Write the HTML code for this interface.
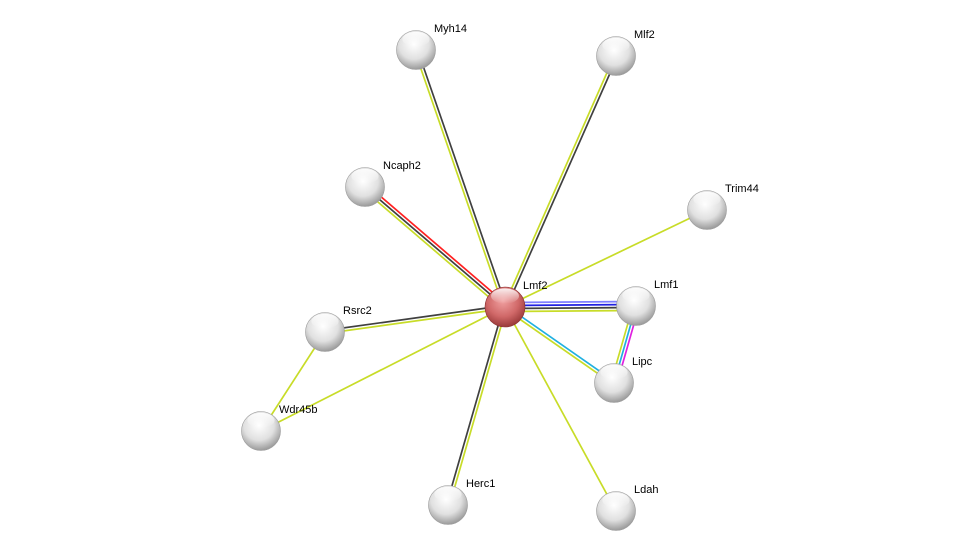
<!DOCTYPE html>
<html><head><style>
html,body{margin:0;padding:0;background:#fff;}
svg{display:block}
text{font-family:"Liberation Sans",sans-serif;font-size:11px;fill:#000}
</style></head><body>
<svg id="s" width="975" height="556" xmlns="http://www.w3.org/2000/svg">
<defs>
<radialGradient id="g" cx="45%" cy="35%" r="65%">
<stop offset="0" stop-color="#ffffff"/><stop offset="0.6" stop-color="#e0e0e0"/><stop offset="1" stop-color="#9a9a9a"/>
</radialGradient>
<radialGradient id="r" cx="45%" cy="35%" r="65%">
<stop offset="0" stop-color="#f0a0a0"/><stop offset="0.6" stop-color="#d06868"/><stop offset="1" stop-color="#9a3a3a"/>
</radialGradient>
<linearGradient id="hl" x1="0" y1="0" x2="0" y2="1">
<stop offset="0" stop-color="#fff" stop-opacity="0.9"/><stop offset="1" stop-color="#fff" stop-opacity="0"/>
</linearGradient>
</defs>
<g id="edges"></g><g id="nodes"></g>
</svg>
<script>
var N={Lmf2:[505,307],Myh14:[416,50],Mlf2:[616,56],Ncaph2:[365,187],Trim44:[707,210],Lmf1:[636,306],Rsrc2:[325,332],Lipc:[614,383],Wdr45b:[261,431],Herc1:[448,505],Ldah:[616,511]};
var YG="#c8dc28",DK="#404040";
var E=[["Lmf2","Myh14",[YG,DK]],["Lmf2","Mlf2",[YG,DK]],["Lmf2","Ncaph2",[YG,DK,"#ff2020"]],["Lmf2","Trim44",[YG]],
["Lmf2","Lmf1",["#8080ff","#2020e0",DK,YG]],["Lmf2","Lipc",["#20b0e0",YG]],["Lmf2","Rsrc2",[YG,DK]],["Lmf2","Wdr45b",[YG]],
["Lmf2","Herc1",[YG,DK]],["Lmf2","Ldah",[YG]],["Rsrc2","Wdr45b",[YG]],["Lmf1","Lipc",["#e020e0","#20b0e0",YG]]];
var ns="http://www.w3.org/2000/svg",eg=document.getElementById("edges"),ng=document.getElementById("nodes");
E.forEach(function(e){var a=N[e[0]],b=N[e[1]],dx=b[0]-a[0],dy=b[1]-a[1],L=Math.hypot(dx,dy),px=-dy/L,py=dx/L,n=e[2].length;
e[2].forEach(function(c,i){var o=(i-(n-1)/2)*3;var l=document.createElementNS(ns,"line");
l.setAttribute("x1",a[0]+px*o);l.setAttribute("y1",a[1]+py*o);l.setAttribute("x2",b[0]+px*o);l.setAttribute("y2",b[1]+py*o);
l.setAttribute("stroke",c);l.setAttribute("stroke-width","1.7");eg.appendChild(l);});});
for(var k in N){var p=N[k],R=k=="Lmf2"?20:19.5;
var c=document.createElementNS(ns,"circle");c.setAttribute("cx",p[0]);c.setAttribute("cy",p[1]);c.setAttribute("r",R);
c.setAttribute("fill",k=="Lmf2"?"url(#r)":"url(#g)");c.setAttribute("stroke",k=="Lmf2"?"#8a3030":"#999");c.setAttribute("stroke-width","0.6");ng.appendChild(c);
var h=document.createElementNS(ns,"ellipse");h.setAttribute("cx",p[0]);h.setAttribute("cy",p[1]-R*0.55);h.setAttribute("rx",R*0.7);h.setAttribute("ry",R*0.38);h.setAttribute("fill","url(#hl)");ng.appendChild(h);
var t=document.createElementNS(ns,"text");t.setAttribute("x",p[0]+18);t.setAttribute("y",p[1]-18);t.textContent=k;ng.appendChild(t);}
</script>
</body></html>
